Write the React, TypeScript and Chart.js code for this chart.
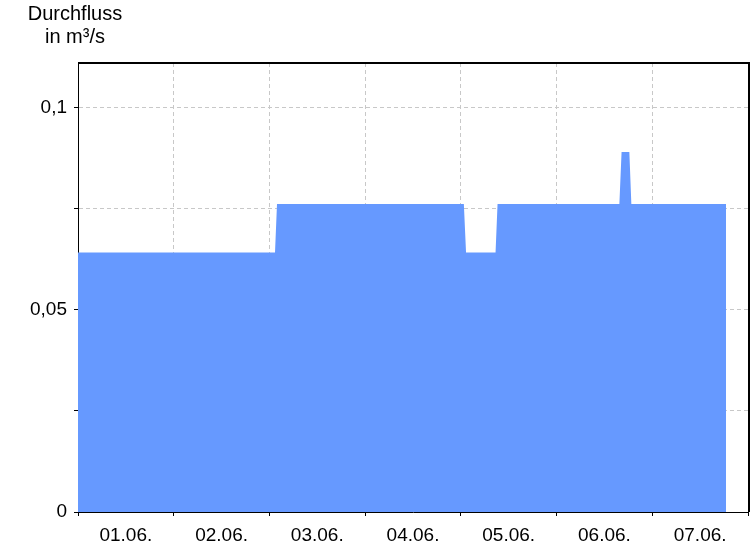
import React, { useEffect, useRef } from "react";
import { Chart, registerables } from "chart.js";

Chart.register(...registerables);

// Hours since 01.06. 00:00
const hours = [0, 49.4, 49.9, 96.75, 97.3, 104.7, 105.2, 135.75, 136.3, 138.25, 138.75, 162.5];
const flow = [0.0642, 0.0642, 0.0762, 0.0762, 0.0642, 0.0642, 0.0762, 0.0762, 0.0891, 0.0891, 0.0762, 0.0762];
const dayLabels = ["01.06.", "02.06.", "03.06.", "04.06.", "05.06.", "06.06.", "07.06."];
const yTicks = [0, 0.025, 0.05, 0.075, 0.1];
const yTickLabels = ["0", "", "0,05", "", "0,1"];
const titleLines = ["Durchfluss", "in m³/s"];

const FONT = "'Liberation Sans', Arial, sans-serif";
const GRID = "rgb(200,200,200)";

export default function App() {
  const ref = useRef<HTMLCanvasElement | null>(null);
  useEffect(() => {
    document.body.style.margin = "0";
    const canvas = ref.current!;
    const framePlugin = {
      id: "frame",
      afterDraw(chart: any) {
        const { ctx, chartArea } = chart;
        ctx.save();
        ctx.strokeStyle = "#000";
        ctx.lineWidth = 2;
        ctx.beginPath();
        ctx.moveTo(chartArea.left, chartArea.top);
        ctx.lineTo(chartArea.right + 1, chartArea.top);
        ctx.lineTo(chartArea.right + 1, chartArea.bottom);
        ctx.stroke();
        ctx.fillStyle = "#000";
        ctx.font = "20px " + FONT;
        ctx.textAlign = "center";
        ctx.textBaseline = "alphabetic";
        ctx.fillText(titleLines[0], 75, 20);
        ctx.fillText(titleLines[1], 75, 43);
        ctx.restore();
      },
    };
    const chart = new Chart(canvas, {
      type: "line",
      data: {
        datasets: [
          {
            data: hours.map((h, i) => ({ x: h, y: flow[i] })),
            fill: "origin",
            backgroundColor: "#6699ff",
            borderWidth: 0,
            borderColor: "rgba(0,0,0,0)",
            pointRadius: 0,
            tension: 0,
          },
        ],
      },
      options: {
        responsive: false,
        animation: false,
        layout: { padding: { top: 63, right: 6, left: 0, bottom: 0 } },
        plugins: { legend: { display: false }, tooltip: { enabled: false }, title: { display: false } },
        scales: {
          x: {
            type: "linear",
            min: 0,
            max: 168,
            z: 1,
            afterBuildTicks: (s: any) => {
              const t = [];
              for (let v = 0; v <= 168; v += 12) t.push({ value: v });
              s.ticks = t;
            },
            afterFit: (s: any) => {
              s.height = 34;
            },
            ticks: {
              autoSkip: false,
              maxRotation: 0,
              padding: 8,
              color: "#000",
              font: { size: 19, family: FONT },
              callback: (v: any) => {
                const n = Number(v);
                if (n % 24 === 12) return dayLabels[(n - 12) / 24];
                return "";
              },
            },
            grid: {
              color: (c: any) => (c.tick && c.tick.value % 24 === 0 && c.tick.value > 0 && c.tick.value < 168 ? GRID : "rgba(0,0,0,0)"),
              tickColor: (c: any) => (c.tick && c.tick.value % 24 === 0 ? "#000" : "rgba(0,0,0,0)"),
              tickLength: 4,
              lineWidth: 1,
            },
            border: { color: "#000", width: 1, dash: [4, 3] },
          },
          y: {
            type: "linear",
            min: 0,
            max: 0.1111,
            z: 1,
            afterBuildTicks: (s: any) => {
              s.ticks = yTicks.map((v) => ({ value: v }));
            },
            afterFit: (s: any) => {
              s.width = 78;
            },
            ticks: {
              padding: 7,
              color: "#000",
              font: { size: 19, family: FONT },
              callback: (v: any) => {
                const i = yTicks.findIndex((t) => Math.abs(t - Number(v)) < 1e-9);
                return i >= 0 ? yTickLabels[i] : "";
              },
            },
            grid: {
              color: (c: any) => (c.tick && c.tick.value > 0 ? GRID : "rgba(0,0,0,0)"),
              tickColor: "#000",
              tickLength: 4,
              lineWidth: 1,
            },
            border: { color: "#000", width: 1, dash: [4, 3] },
          },
        },
      },
      plugins: [framePlugin],
    });
    return () => chart.destroy();
  }, []);
  return (
    <div style={{ position: "absolute", left: 0, top: 0, width: 756, height: 546 }}>
      <canvas ref={ref} width={756} height={546} />
    </div>
  );
}
